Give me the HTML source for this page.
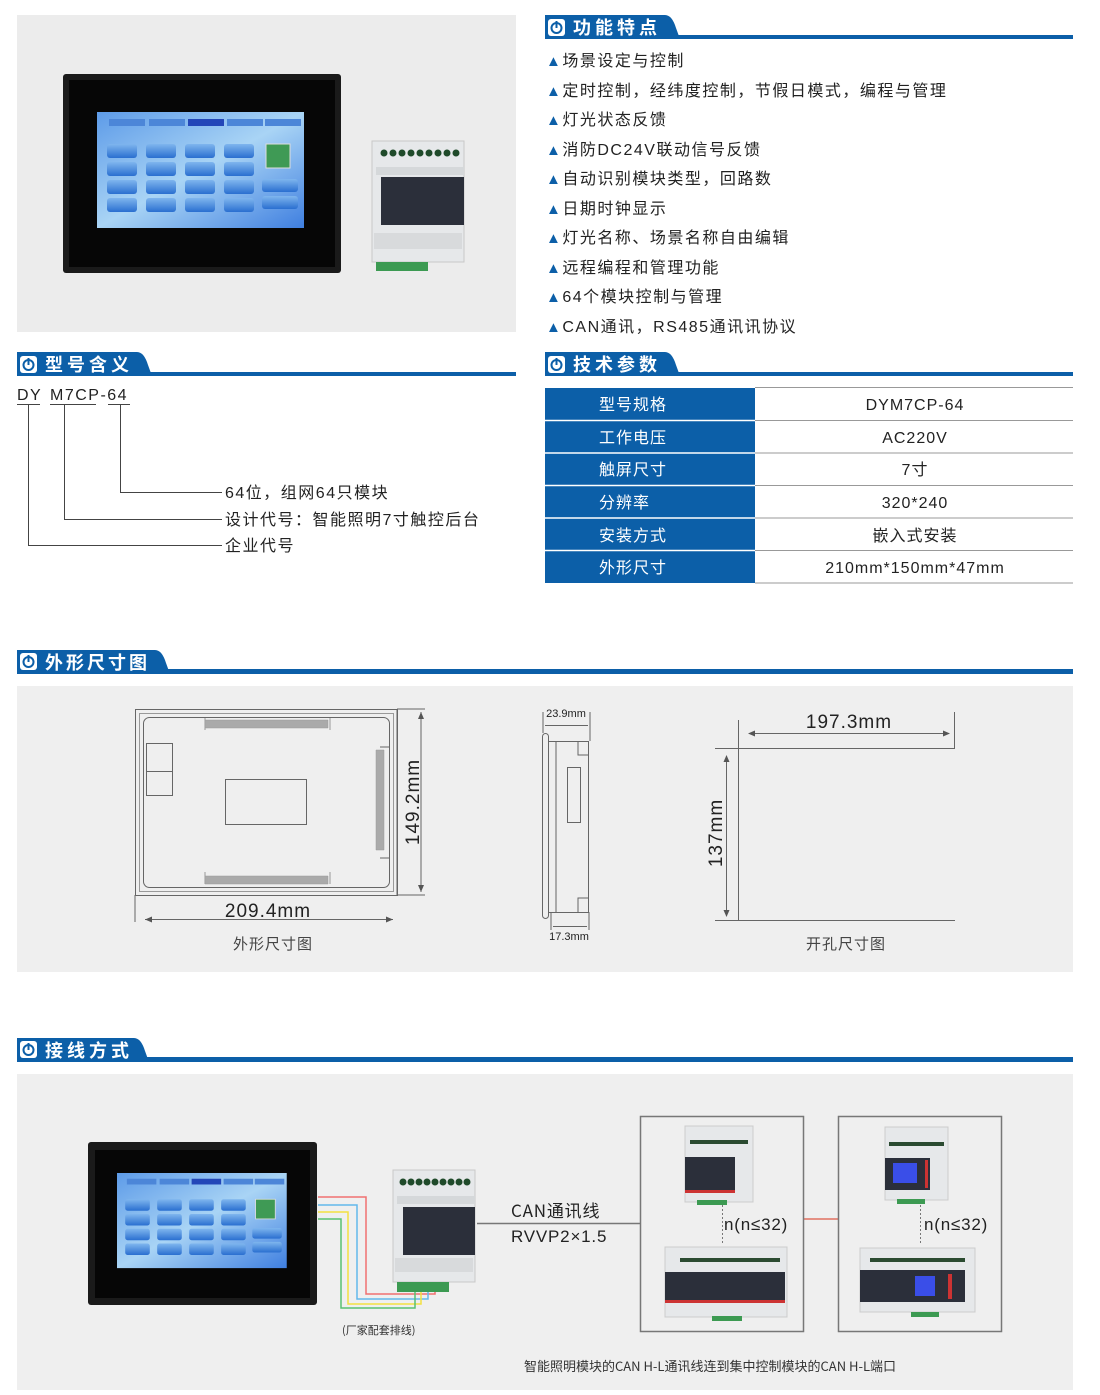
<!DOCTYPE html>
<html><head><meta charset="utf-8"><style>
html,body{margin:0;padding:0;background:#fff}
svg{display:block}
text{font-family:"Liberation Sans","Noto Sans CJK SC",sans-serif}
.cn{font-family:"Noto Sans CJK SC","Liberation Sans",sans-serif}
</style></head><body>
<svg width="1100" height="1395" viewBox="0 0 1100 1395" xmlns="http://www.w3.org/2000/svg">
<defs>
<linearGradient id="scr" x1="0" y1="0" x2="1" y2="1">
<stop offset="0" stop-color="#5d9be8"/><stop offset="0.5" stop-color="#a9d4f5"/><stop offset="1" stop-color="#3f7fe0"/></linearGradient>
<linearGradient id="btn" x1="0" y1="0" x2="0" y2="1"><stop offset="0" stop-color="#7fb6ee"/><stop offset="1" stop-color="#2a6fd0"/></linearGradient>
<g id="screen">
<rect x="0" y="0" width="207" height="116" fill="url(#scr)"/>
<rect x="12" y="7" width="36" height="7" fill="#4c86d8"/><rect x="52" y="7" width="36" height="7" fill="#4c86d8"/><rect x="91" y="7" width="36" height="7" fill="#2346b8"/><rect x="130" y="7" width="36" height="7" fill="#4c86d8"/><rect x="168" y="7" width="36" height="7" fill="#4c86d8"/>
<g fill="url(#btn)">
<rect x="10" y="32" width="30" height="14" rx="3"/><rect x="49" y="32" width="30" height="14" rx="3"/><rect x="88" y="32" width="30" height="14" rx="3"/><rect x="127" y="32" width="30" height="14" rx="3"/>
<rect x="10" y="50" width="30" height="14" rx="3"/><rect x="49" y="50" width="30" height="14" rx="3"/><rect x="88" y="50" width="30" height="14" rx="3"/><rect x="127" y="50" width="30" height="14" rx="3"/>
<rect x="10" y="68" width="30" height="14" rx="3"/><rect x="49" y="68" width="30" height="14" rx="3"/><rect x="88" y="68" width="30" height="14" rx="3"/><rect x="127" y="68" width="30" height="14" rx="3"/>
<rect x="10" y="86" width="30" height="14" rx="3"/><rect x="49" y="86" width="30" height="14" rx="3"/><rect x="88" y="86" width="30" height="14" rx="3"/><rect x="127" y="86" width="30" height="14" rx="3"/>
<rect x="165" y="67" width="36" height="13" rx="3"/><rect x="165" y="84" width="36" height="13" rx="3"/>
</g>
<rect x="169" y="32" width="24" height="24" fill="#3f9a55" stroke="#ddd"/>
</g>
<g id="ctrl">
<rect x="0" y="0" width="82" height="112" fill="#e6e8ea" stroke="#c8c8c8"/>
<rect x="4" y="26" width="78" height="8" fill="#d5d8da"/>
<g fill="#1f4a2a"><circle cx="10" cy="12" r="3.5"/><circle cx="18" cy="12" r="3.5"/><circle cx="26" cy="12" r="3.5"/><circle cx="34" cy="12" r="3.5"/><circle cx="42" cy="12" r="3.5"/><circle cx="50" cy="12" r="3.5"/><circle cx="58" cy="12" r="3.5"/><circle cx="66" cy="12" r="3.5"/><circle cx="74" cy="12" r="3.5"/></g>
<rect x="10" y="37" width="72" height="48" fill="#2b2f3a"/>
<rect x="2" y="88" width="78" height="14" fill="#d8dadc"/>
<rect x="4" y="112" width="52" height="10" fill="#3c9a52"/>
</g>
</defs>

<rect x="17" y="15" width="499" height="317" fill="#ececec"/>
<rect x="63" y="74" width="278" height="199" rx="3" fill="#1a1a1a"/>
<rect x="69" y="80" width="266" height="187" fill="#060606"/>
<use href="#screen" x="97" y="112"/>
<g transform="translate(372,141)"><rect x="0" y="0" width="92" height="121" fill="#e6e8ea" stroke="#c8c8c8"/>
<rect x="4" y="26" width="88" height="8" fill="#d5d8da"/>
<g fill="#1f4a2a"><circle cx="12" cy="12" r="3.5"/><circle cx="21" cy="12" r="3.5"/><circle cx="30" cy="12" r="3.5"/><circle cx="39" cy="12" r="3.5"/><circle cx="48" cy="12" r="3.5"/><circle cx="57" cy="12" r="3.5"/><circle cx="66" cy="12" r="3.5"/><circle cx="75" cy="12" r="3.5"/><circle cx="84" cy="12" r="3.5"/></g>
<rect x="9" y="36" width="83" height="48" fill="#2b2f3a"/>
<rect x="2" y="92" width="88" height="16" fill="#d8dadc"/>
<rect x="4" y="121" width="52" height="9" fill="#3c9a52"/></g>

<g>
<rect x="545" y="35" width="528" height="4" fill="#0c5fa8"/>
<path d="M545 15 H665 Q672 15 676 28 L680 39 H545Z" fill="#0c5fa8"/>
<rect x="548" y="19" width="17" height="17" rx="3" fill="#fff"/>
<circle cx="556.5" cy="28" r="5" fill="none" stroke="#0c5fa8" stroke-width="2"/><rect x="555.5" y="21" width="2" height="7" fill="#0c5fa8"/>
<text x="573" y="34" font-size="18" font-weight="bold" fill="#fff" class="cn" letter-spacing="4">功能特点</text>
</g>
<g>
<rect x="17" y="372" width="499" height="4" fill="#0c5fa8"/>
<path d="M17 352 H137 Q144 352 148 365 L152 376 H17Z" fill="#0c5fa8"/>
<rect x="20" y="356" width="17" height="17" rx="3" fill="#fff"/>
<circle cx="28.5" cy="365" r="5" fill="none" stroke="#0c5fa8" stroke-width="2"/><rect x="27.5" y="358" width="2" height="7" fill="#0c5fa8"/>
<text x="45" y="371" font-size="18" font-weight="bold" fill="#fff" class="cn" letter-spacing="4">型号含义</text>
</g>
<g>
<rect x="545" y="372" width="528" height="4" fill="#0c5fa8"/>
<path d="M545 352 H665 Q672 352 676 365 L680 376 H545Z" fill="#0c5fa8"/>
<rect x="548" y="356" width="17" height="17" rx="3" fill="#fff"/>
<circle cx="556.5" cy="365" r="5" fill="none" stroke="#0c5fa8" stroke-width="2"/><rect x="555.5" y="358" width="2" height="7" fill="#0c5fa8"/>
<text x="573" y="371" font-size="18" font-weight="bold" fill="#fff" class="cn" letter-spacing="4">技术参数</text>
</g>
<g>
<rect x="17" y="669" width="1056" height="5" fill="#0c5fa8"/>
<path d="M17 650 H155 Q162 650 166 663 L170 674 H17Z" fill="#0c5fa8"/>
<rect x="20" y="653" width="17" height="17" rx="3" fill="#fff"/>
<circle cx="28.5" cy="662" r="5" fill="none" stroke="#0c5fa8" stroke-width="2"/><rect x="27.5" y="655" width="2" height="7" fill="#0c5fa8"/>
<text x="45" y="669" font-size="18" font-weight="bold" fill="#fff" class="cn" letter-spacing="3">外形尺寸图</text>
</g>
<g>
<rect x="17" y="1057" width="1056" height="5" fill="#0c5fa8"/>
<path d="M17 1038 H134 Q141 1038 145 1051 L149 1062 H17Z" fill="#0c5fa8"/>
<rect x="20" y="1041" width="17" height="17" rx="3" fill="#fff"/>
<circle cx="28.5" cy="1050" r="5" fill="none" stroke="#0c5fa8" stroke-width="2"/><rect x="27.5" y="1043" width="2" height="7" fill="#0c5fa8"/>
<text x="45" y="1057" font-size="18" font-weight="bold" fill="#fff" class="cn" letter-spacing="4">接线方式</text>
</g>

<g font-size="16" fill="#222" class="cn" letter-spacing="1.5">
<text x="546" y="66"><tspan fill="#0c5fa8" font-size="15">▲</tspan>场景设定与控制</text>
<text x="546" y="96"><tspan fill="#0c5fa8" font-size="15">▲</tspan>定时控制，经纬度控制，节假日模式，编程与管理</text>
<text x="546" y="125"><tspan fill="#0c5fa8" font-size="15">▲</tspan>灯光状态反馈</text>
<text x="546" y="155"><tspan fill="#0c5fa8" font-size="15">▲</tspan>消防DC24V联动信号反馈</text>
<text x="546" y="184"><tspan fill="#0c5fa8" font-size="15">▲</tspan>自动识别模块类型，回路数</text>
<text x="546" y="214"><tspan fill="#0c5fa8" font-size="15">▲</tspan>日期时钟显示</text>
<text x="546" y="243"><tspan fill="#0c5fa8" font-size="15">▲</tspan>灯光名称、场景名称自由编辑</text>
<text x="546" y="273"><tspan fill="#0c5fa8" font-size="15">▲</tspan>远程编程和管理功能</text>
<text x="546" y="302"><tspan fill="#0c5fa8" font-size="15">▲</tspan>64个模块控制与管理</text>
<text x="546" y="332"><tspan fill="#0c5fa8" font-size="15">▲</tspan>CAN通讯，RS485通讯讯协议</text>
</g>

<g font-size="16" fill="#222">
<text x="17" y="400" letter-spacing="1.5">DY</text>
<text x="50" y="400" letter-spacing="1.5">M7CP-64</text>
</g>
<g stroke="#444" stroke-width="1" fill="none">
<path d="M17 404.5H40M50 404.5H96M108 404.5H130"/>
<path d="M28.5 405V545.5H222M64.5 405V519.5H222M120.5 405V492.5H222"/>
</g>
<g font-size="16" fill="#222" class="cn" letter-spacing="1.5">
<text x="225" y="498">64位，组网64只模块</text>
<text x="225" y="525">设计代号：智能照明7寸触控后台</text>
<text x="225" y="551">企业代号</text>
</g>

<rect x="545" y="388" width="210" height="195" fill="#0c5fa8"/>
<g stroke="#fff" stroke-width="1.5"><path d="M545 420.5H755M545 453H755M545 485.5H755M545 518H755M545 550.5H755"/></g>
<g stroke="#999" stroke-width="1"><path d="M755 387.5H1073M755 420.5H1073M755 453H1073M755 485.5H1073M755 518H1073M755 550.5H1073M755 583H1073"/></g>
<g font-size="16" fill="#fff" class="cn" letter-spacing="1">
<text x="599" y="410">型号规格</text><text x="599" y="443">工作电压</text><text x="599" y="475">触屏尺寸</text>
<text x="599" y="508">分辨率</text><text x="599" y="541">安装方式</text><text x="599" y="573">外形尺寸</text>
</g>
<g font-size="16" fill="#222" text-anchor="middle" class="cn" letter-spacing="1">
<text x="915" y="410">DYM7CP-64</text><text x="915" y="443">AC220V</text><text x="915" y="475">7寸</text>
<text x="915" y="508">320*240</text><text x="915" y="541">嵌入式安装</text><text x="915" y="573">210mm*150mm*47mm</text>
</g>

<rect x="17" y="686" width="1056" height="286" fill="#efefef"/>
<g fill="none" stroke="#666" stroke-width="1">
<rect x="135.5" y="709.5" width="262" height="186"/>
<rect x="139.5" y="713.5" width="254" height="178" stroke="#999"/>
<rect x="143.5" y="717.5" width="246" height="170" rx="6"/>
<rect x="225.5" y="779.5" width="81" height="45"/>
<rect x="146.5" y="743.5" width="26" height="28"/><rect x="146.5" y="771.5" width="26" height="24"/>
<path d="M205 718v12M330 718v12M205 872v12M330 872v12" stroke="#999"/>
<path d="M380 747h10M380 858h10" />
<path d="M135 895V922M397 709V895M397 709H425M397 895H425"/>
<path d="M421 712V892M145 919.5H393"/>
<rect x="542.5" y="733.5" width="6" height="185" rx="3"/>
<rect x="548.5" y="741.5" width="40" height="171"/>
<path d="M556 741V912"/>
<rect x="567.5" y="767.5" width="13" height="55"/>
<path d="M578 741v14h10M578 912v-14h10"/>
<path d="M543 712V733M590 712V741M551 912V930M589 912V930M545 725.5H588M553 926.5H587"/>
<path d="M738.5 720V920.5M954.5 712V748M715 748.5H955M715 920.5H955"/>
<path d="M750 733.5H948M726.5 757V915"/>
</g>
<g fill="#aaa" stroke="#999" stroke-width="0.5">
<path d="M205 720h123v8h-123z"/><path d="M205 876h123v8h-123z"/><path d="M376 750h8v100h-8z"/>
</g>
<g fill="#555">
<path d="M421 712l-3 7h6z"/><path d="M421 892l-3 -7h6z"/>
<path d="M145 919.5l7 -3v6z"/><path d="M393 919.5l-7 -3v6z"/>
<path d="M748 733.5l7 -3v6z"/><path d="M950 733.5l-7 -3v6z"/>
<path d="M726.5 755l-3 7h6z"/><path d="M726.5 917l-3 -7h6z"/>
</g>
<g fill="#222" letter-spacing="1">
<text x="268" y="917" font-size="19" text-anchor="middle">209.4mm</text>
<text transform="translate(419,802) rotate(-90)" font-size="19" text-anchor="middle">149.2mm</text>
<text x="849" y="728" font-size="19" text-anchor="middle">197.3mm</text>
<text transform="translate(722,833) rotate(-90)" font-size="19" text-anchor="middle">137mm</text>
<text x="566" y="717" font-size="11" text-anchor="middle" letter-spacing="0">23.9mm</text>
<text x="569" y="940" font-size="11" text-anchor="middle" letter-spacing="0">17.3mm</text>
</g>
<g font-size="15" fill="#444" text-anchor="middle" class="cn" letter-spacing="1">
<text x="273" y="949">外形尺寸图</text>
<text x="846" y="949">开孔尺寸图</text>
</g>

<rect x="17" y="1074" width="1056" height="316" fill="#efefef"/>
<rect x="88" y="1142" width="229" height="163" rx="3" fill="#1a1a1a"/>
<rect x="95" y="1150" width="215" height="148" fill="#060606"/>
<g transform="translate(117,1173) scale(0.82)"><use href="#screen"/></g>
<g fill="none" stroke-width="1.5">
<path d="M318 1197H366V1294H435V1276" stroke="#f07070"/>
<path d="M318 1205H357V1299H428V1276" stroke="#62b8ec"/>
<path d="M318 1212H348V1304H421V1276" stroke="#f3e040"/>
<path d="M318 1219H341V1308H415V1276" stroke="#58c070"/>
</g>
<use href="#ctrl" x="393" y="1170"/>
<path d="M477 1223.5H640" stroke="#777" stroke-width="1.5"/>
<path d="M803 1219H838" stroke="#e07060" stroke-width="1.5"/>
<rect x="640.5" y="1116.5" width="163" height="215" fill="none" stroke="#777" stroke-width="1.5"/>
<rect x="838.5" y="1116.5" width="163" height="215" fill="none" stroke="#777" stroke-width="1.5"/>
<rect x="685" y="1126" width="68" height="76" fill="#e6e8ea" stroke="#ccc"/>
<rect x="685" y="1157" width="50" height="36" fill="#2b2f3a"/><rect x="685" y="1190" width="50" height="3" fill="#c33"/>
<rect x="697" y="1200" width="30" height="5" fill="#3c9a52"/>
<rect x="665" y="1247" width="122" height="70" fill="#e6e8ea" stroke="#ccc"/>
<rect x="665" y="1272" width="120" height="31" fill="#2b2f3a"/><rect x="665" y="1300" width="120" height="3" fill="#c33"/>
<rect x="712" y="1316" width="30" height="5" fill="#3c9a52"/>
<rect x="885" y="1127" width="63" height="73" fill="#e6e8ea" stroke="#ccc"/>
<rect x="885" y="1158" width="45" height="32" fill="#2b2f3a"/><rect x="893" y="1163" width="24" height="20" fill="#3a4ee8"/><rect x="925" y="1160" width="3" height="28" fill="#c33"/>
<rect x="897" y="1199" width="28" height="5" fill="#3c9a52"/>
<rect x="860" y="1248" width="115" height="64" fill="#e6e8ea" stroke="#ccc"/>
<rect x="860" y="1270" width="105" height="32" fill="#2b2f3a"/><rect x="915" y="1276" width="20" height="20" fill="#3a4ee8"/><rect x="948" y="1274" width="4" height="25" fill="#c33"/>
<rect x="911" y="1312" width="28" height="5" fill="#3c9a52"/>
<g fill="#2a4a30">
<rect x="690" y="1140" width="58" height="4"/><rect x="889" y="1142" width="55" height="4"/>
<rect x="680" y="1258" width="100" height="4"/><rect x="870" y="1258" width="95" height="4"/>
</g>
<g stroke="#777" stroke-dasharray="2,2" stroke-width="1"><path d="M722.5 1205V1245M920.5 1205V1245"/></g>
<g font-size="17" fill="#222" letter-spacing="0.8">
<text x="724" y="1230">n(n≤32)</text><text x="924" y="1230">n(n≤32)</text>
<text x="511" y="1217" class="cn">CAN通讯线</text>
<text x="511" y="1242">RVVP2×1.5</text>
</g>
<text x="342" y="1334" font-size="11" fill="#333" class="cn">(厂家配套排线)</text>
<text x="710" y="1371" font-size="13" fill="#333" text-anchor="middle" class="cn">智能照明模块的CAN H-L通讯线连到集中控制模块的CAN H-L端口</text>
</svg>
</body></html>
